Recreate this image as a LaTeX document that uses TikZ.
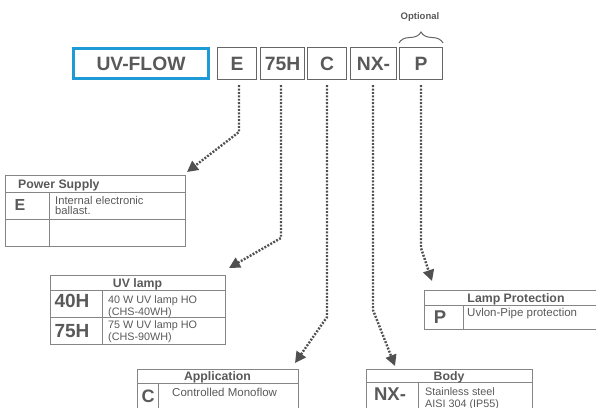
\documentclass[tikz,border=0pt]{standalone}
\usepackage{fontspec}
\setmainfont{Liberation Sans}
\usetikzlibrary{arrows.meta,decorations.pathreplacing}
\definecolor{txt}{HTML}{595959}
\definecolor{boxc}{HTML}{666666}
\definecolor{blu}{HTML}{1E9BD7}
\definecolor{tline}{HTML}{858585}
\definecolor{connc}{HTML}{505050}
\begin{document}
\begin{tikzpicture}[x=1pt,y=-1pt,
  codebox/.style={draw=boxc,line width=1.4pt,minimum height=32pt,inner sep=0pt,text=txt,font=\fontsize{19.3}{19.3}\selectfont\bfseries},
  conn/.style={draw=connc,line width=2.4pt,dash pattern=on 1.9pt off 1.5pt,shorten <=5pt,-{Triangle[length=11pt,width=11pt]}},
  tab/.style={draw=tline,line width=0.9pt},
  hdr/.style={text=txt,font=\fontsize{12.3}{12.3}\selectfont\bfseries,inner sep=0pt,anchor=base},
  big/.style={text=txt,font=\fontsize{19}{19}\selectfont\bfseries,inner sep=0pt,anchor=base},
  desc/.style={text=txt,font=\fontsize{10.8}{12}\selectfont,inner sep=0pt,align=left,anchor=base west},
]
\useasboundingbox (0,0) rectangle (596,407);
\clip (0,0) rectangle (596,407);

% code boxes
\node[codebox,draw=blu,line width=3pt,minimum width=135pt,minimum height=30pt] (uv) at (141,63.5) {UV-FLOW};
\node[codebox,minimum width=39pt] (E) at (237,63.5) {E};
\node[codebox,minimum width=44pt] (H) at (282.5,63.5) {75H};
\node[codebox,minimum width=39pt] (C) at (327,63.5) {C};
\node[codebox,minimum width=46pt] (NX) at (373.5,63.5) {NX-};
\node[codebox,minimum width=43pt] (P) at (421,63.5) {P};

% optional brace
\draw[boxc,line width=1pt,decorate,decoration={brace,amplitude=11pt}] (399,43) -- (443,43);
\node[text=txt,font=\fontsize{9.5}{9.5}\selectfont\bfseries,inner sep=0pt] (opt) at (420,17) {Optional};

% bend points and arrow tips
\coordinate (eB) at (239,132);   \coordinate (psTip) at (187,172);
\coordinate (hB) at (281,238);   \coordinate (uvTip) at (229,268);
\coordinate (cB) at (327,317);   \coordinate (apTip) at (295,363);
\coordinate (nB) at (373,310);   \coordinate (bdTip) at (395,366);
\coordinate (pB) at (421,248);   \coordinate (lpTip) at (432,281);

\draw[conn] (E.south -| eB) -- (eB) -- (psTip);
\draw[conn] (H.south -| hB) -- (hB) -- (uvTip);
\draw[conn] (C.south -| cB) -- (cB) -- (apTip);
\draw[conn] (NX.south -| nB) -- (nB) -- (bdTip);
\draw[conn] (P.south -| pB) -- (pB) -- (lpTip);

% Power Supply table
\draw[tab] (5,175) rectangle (185,246);
\draw[tab] (5,192) -- (185,192);
\draw[tab] (5,219) -- (185,219);
\draw[tab] (49,192) -- (49,246);
\node[hdr,anchor=base west] (psH) at (18,188) {Power Supply};
\node[big,font=\fontsize{16}{16}\selectfont\bfseries] (psE) at (20,210) {E};
\node[desc,font=\fontsize{11.2}{10}\selectfont] (psD) at (55,214.5) {Internal electronic\\ballast.};

% UV lamp table
\draw[tab] (50,275) rectangle (225,344);
\draw[tab] (50,290) -- (225,290);
\draw[tab] (50,317) -- (225,317);
\draw[tab] (102,290) -- (102,344);
\node[hdr] (uvH) at (137.5,287) {UV lamp};
\node[big] (uv40) at (72,307) {40H};
\node[big] (uv75) at (72,337) {75H};
\node[desc] (uvD1) at (108,315) {40 W UV lamp HO\\(CHS-40WH)};
\node[desc] (uvD2) at (108,340.5) {75 W UV lamp HO\\(CHS-90WH)};

% Application table
\draw[tab] (137,369) rectangle (298,420);
\draw[tab] (137,383) -- (298,383);
\draw[tab] (158,383) -- (158,420);
\node[hdr] (apH) at (217.5,380.5) {Application};
\node[big,font=\fontsize{18}{18}\selectfont\bfseries] (apC) at (148,402.5) {C};
\node[desc,font=\fontsize{11.5}{12}\selectfont] (apD) at (172,396) {Controlled Monoflow};

% Lamp Protection table
\draw[tab] (424,290) rectangle (608,329);
\draw[tab] (424,305) -- (608,305);
\draw[tab] (463,305) -- (463,329);
\node[hdr] (lpH) at (516,302.5) {Lamp Protection};
\node[big,font=\fontsize{18.5}{18.5}\selectfont\bfseries] (lpP) at (440,323.5) {P};
\node[desc,font=\fontsize{11.5}{12}\selectfont] (lpD) at (467,316) {Uvlon-Pipe protection};

% Body table
\draw[tab] (366,369) rectangle (532,420);
\draw[tab] (366,382) -- (532,382);
\draw[tab] (418,382) -- (418,420);
\node[hdr] (bdH) at (449,380.5) {Body};
\node[big,font=\fontsize{18.5}{18.5}\selectfont\bfseries] (bdN) at (390,400.5) {NX-};
\node[desc] (bdD) at (425,407) {Stainless steel\\AISI 304 (IP55)};
\end{tikzpicture}
\end{document}
